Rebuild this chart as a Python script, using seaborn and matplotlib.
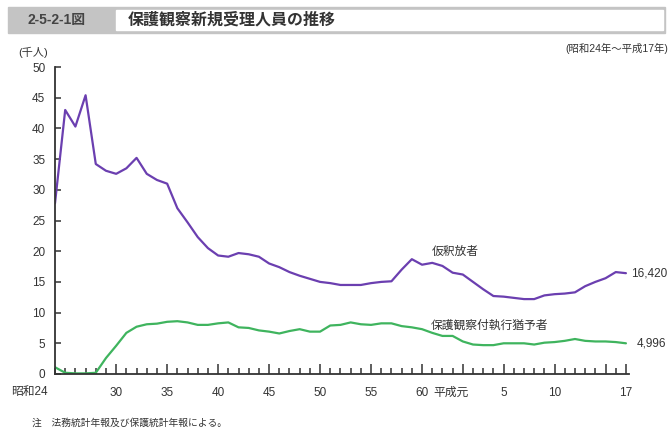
import numpy as np
import pandas as pd
import matplotlib
matplotlib.use("Agg")
import matplotlib.pyplot as plt
import matplotlib.transforms as mtransforms
from matplotlib.patches import Rectangle
import seaborn as sns

# 年次（昭和24年～平成17年）
years = np.arange(1949, 2006)

# 仮釈放者（千人）
parole = [27.8, 43.0, 40.3, 45.4, 34.2, 33.1, 32.6, 33.5, 35.2, 32.6,
          31.6, 31.0, 27.0, 24.7, 22.3, 20.5, 19.3, 19.1, 19.7, 19.5,
          19.1, 18.0, 17.4, 16.6, 16.0, 15.5, 15.0, 14.8, 14.5, 14.5,
          14.5, 14.8, 15.0, 15.1, 17.0, 18.7, 17.8, 18.1, 17.6, 16.5,
          16.2, 15.0, 13.8, 12.7, 12.6, 12.4, 12.2, 12.2, 12.8, 13.0,
          13.1, 13.3, 14.3, 15.0, 15.6, 16.6, 16.42]

# 保護観察付執行猶予者（千人）
probation = [1.1, 0.2, 0.1, 0.1, 0.2, 2.6, 4.6, 6.7, 7.7, 8.1,
             8.2, 8.5, 8.6, 8.4, 8.0, 8.0, 8.25, 8.4, 7.6, 7.5,
             7.1, 6.9, 6.6, 7.0, 7.3, 6.9, 6.9, 7.9, 8.0, 8.4,
             8.1, 8.0, 8.25, 8.25, 7.8, 7.6, 7.3, 6.7, 6.2, 6.2,
             5.3, 4.8, 4.7, 4.7, 5.0, 5.0, 5.0, 4.8, 5.1, 5.2,
             5.4, 5.7, 5.4, 5.3, 5.3, 5.2, 5.0]

series_names = ["仮釈放者", "保護観察付執行猶予者"]
end_labels = ["16,420", "4,996"]

long_ticks = [1955, 1960, 1965, 1970, 1975, 1980, 1985, 1989, 1993, 1998, 2003, 2005]
tick_labels = {1949: "昭和24", 1955: "30", 1960: "35", 1965: "40", 1970: "45",
               1975: "50", 1980: "55", 1985: "60", 1989: "平成元", 1993: "5",
               1998: "10", 2005: "17"}
y_ticks = list(range(0, 51, 5))

df = pd.DataFrame({
    "year": np.concatenate([years, years]),
    "value": parole + probation,
    "series": [series_names[0]] * len(years) + [series_names[1]] * len(years),
})

sns.set_theme(style="ticks")
plt.rcParams["font.family"] = ["Liberation Sans", "Noto Sans CJK JP", "DejaVu Sans"]
txt = "#333333"

W, H = 670, 434
fig = plt.figure(figsize=(W / 100, H / 100), dpi=100)
ax = fig.add_axes([55 / W, 60 / H, (629 - 55) / W, (374 - 67) / H])

palette = {series_names[0]: "#6b3fb0", series_names[1]: "#3fb45e"}
sns.lineplot(data=df, x="year", y="value", hue="series", palette=palette,
             linewidth=1.6, ax=ax, legend=False)

ax.set_xlim(1949, 2005.3)
ax.set_ylim(0, 50)
ax.set_xlabel("")
ax.set_ylabel("")
sns.despine(ax=ax)
for s in ["left", "bottom"]:
    ax.spines[s].set_color("#333333")
    ax.spines[s].set_linewidth(1.3)

ax.set_yticks(y_ticks)
ax.set_yticklabels([str(v) for v in y_ticks])
ax.set_xticks(years)
ax.set_xticklabels([tick_labels.get(int(y), "") for y in years])
ax.tick_params(axis="x", direction="in", length=4.5, width=1.1,
               color="#333333", pad=9, labelsize=8.5, labelcolor=txt)
ax.tick_params(axis="y", direction="in", length=4.5, width=1.1,
               color="#333333", pad=7, labelsize=8.5, labelcolor=txt)

# 5年ごとの目盛を長く
for y, tk in zip(years, ax.xaxis.get_major_ticks()):
    if int(y) in long_ticks:
        tk.tick1line.set_markersize(7.0)

xl = ax.get_xticklabels()
i0 = 0
i_h = list(years).index(1989)
xl[i0].set_horizontalalignment("right")
xl[i0].set_transform(xl[i0].get_transform()
                     + mtransforms.ScaledTranslation(-7 / 100, 0, fig.dpi_scale_trans))
xl[i_h].set_horizontalalignment("right")
xl[i_h].set_transform(xl[i_h].get_transform()
                      + mtransforms.ScaledTranslation(6 / 100, 0, fig.dpi_scale_trans))

# 系列ラベル
ax.text(1986, parole[-19] + 2.3, series_names[0], fontsize=8.5, color=txt, ha="left", va="center")
ax.text(1985.9, probation[-19] + 1.6, series_names[1], fontsize=8.5, color=txt, ha="left", va="center")
ax.annotate(end_labels[0], xy=(years[-1], parole[-1]), xytext=(4, 0),
            textcoords="offset points", fontsize=8.5, color=txt, va="center",
            annotation_clip=False)
ax.annotate(end_labels[1], xy=(years[-1], probation[-1]), xytext=(8, 0),
            textcoords="offset points", fontsize=8.5, color=txt, va="center",
            annotation_clip=False)

# 見出し
fig.patches.append(Rectangle((8 / W, 1 - 33 / H), (665 - 8) / W, 26 / H,
                             transform=fig.transFigure, color="#c4c4c4", zorder=0))
fig.patches.append(Rectangle((116 / W, 1 - 30 / H), (663 - 116) / W, 20 / H,
                             transform=fig.transFigure, color="white", zorder=1))
fig.text(28 / W, 1 - 20 / H, "2-5-2-1図", fontsize=10, fontweight="bold",
         color="#444444", va="center", ha="left")
fig.text(128 / W, 1 - 20 / H, "保護観察新規受理人員の推移", fontsize=11.5,
         fontweight="bold", color="#333333", va="center", ha="left")
fig.text(18 / W, 1 - 52 / H, "(千人)", fontsize=8, color=txt, va="center", ha="left")
fig.text(668 / W, 1 - 48 / H, "(昭和24年～平成17年)", fontsize=7.5, color=txt,
         va="center", ha="right")
fig.text(32 / W, 1 - 423 / H, "注　法務統計年報及び保護統計年報による。", fontsize=7,
         color=txt, va="center", ha="left")

fig.savefig("out.png", dpi=100)
